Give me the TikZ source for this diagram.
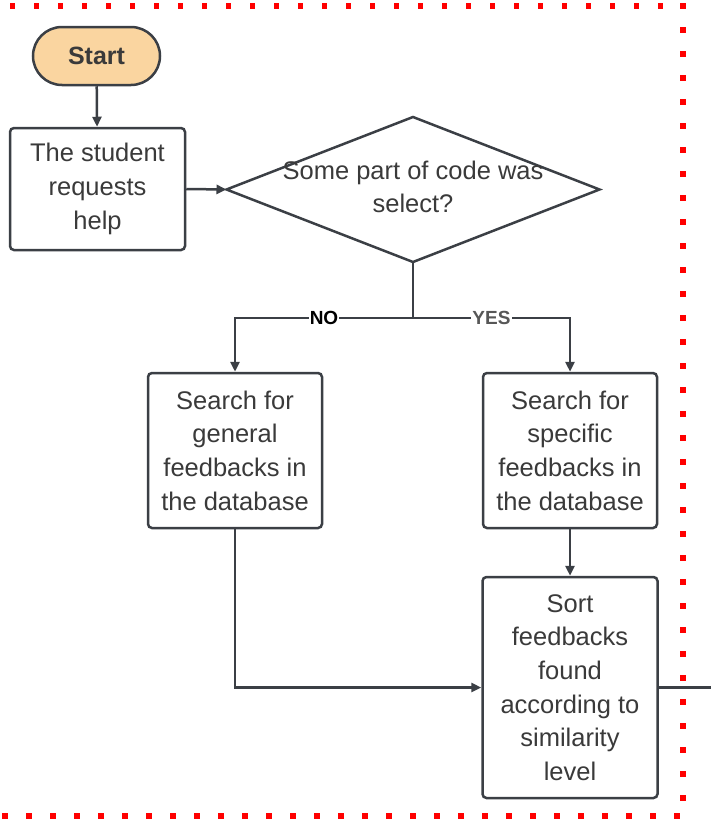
\documentclass[tikz,border=0pt]{standalone}
\usepackage{fontspec}
\setmainfont{Liberation Sans}
\usetikzlibrary{arrows.meta,shapes.geometric}
\definecolor{ink}{HTML}{3B3F45}
\definecolor{txt}{HTML}{3A3A3A}
\definecolor{peach}{HTML}{FAD5A0}
\definecolor{dotred}{HTML}{FF0000}
\tikzset{
  flow/.style={draw=ink, line width=2.5pt, fill=white, rounded corners=4pt,
    align=center, text=txt, inner sep=0pt,
    font=\fontsize{25.5}{33.6}\selectfont},
  arr/.style={draw=ink, line width=2.5pt, -{Triangle[length=10pt,width=9pt]}},
  link/.style={draw=ink, line width=2.5pt},
  tag/.style={fill=white, inner sep=1pt, font=\fontsize{19}{19}\selectfont\bfseries}
}
\begin{document}
\begin{tikzpicture}[x=1pt,y=-1pt]
\useasboundingbox (0,0) rectangle (710,819);

% red dotted frame (top, right, bottom)
\foreach \k in {0,...,27} \fill[dotred] ({12.3+24*\k-2.75},3) rectangle ++(5.5,5.5);
\foreach \k in {0,...,33} \fill[dotred] (680,{6+24*\k-2.75}) rectangle ++(5.5,5.5);
\foreach \k in {0,...,28} \fill[dotred] ({5+24*\k-2.75},813.3) rectangle ++(5.5,5.5);

% nodes
\node[flow, fill=peach, rounded corners=29pt, minimum width=127pt, minimum height=58pt,
      font=\fontsize{25}{25}\selectfont\bfseries] (start) at (96.5,56) {Start};
\node[flow, minimum width=175pt, minimum height=122pt] (req) at (97.5,189)
  {The student\\requests\\help};
\node[draw=ink, line width=2.5pt, shape=diamond, inner sep=0pt, outer sep=0pt,
      minimum width=373pt, minimum height=145pt] (dec) at (413,189.5) {};
\node[align=center, text=txt, font=\fontsize{25.5}{33}\selectfont] (dectext) at (413,186.5)
  {Some part of code was\\select?};
\node[flow, minimum width=174pt, minimum height=155pt] (gen) at (235,450.5)
  {Search for\\general\\feedbacks in\\the database};
\node[flow, minimum width=174pt, minimum height=155pt] (spec) at (570,450.5)
  {Search for\\specific\\feedbacks in\\the database};
\node[flow, minimum width=175pt, minimum height=221pt] (sort) at (570,687.5)
  {Sort\\feedbacks\\found\\according to\\similarity\\level};

\coordinate (split) at (413,318);
\coordinate (exit) at (712,687.5);

% connectors
\draw[arr] (start) -- (req);
\draw[arr] (req.east) -- (dec.west);
\draw[link] (dec.south) -- (split);
\draw[arr] (split) -| node[tag, pos=0.25, text=black] {NO} (gen.north);
\draw[arr] (split) -| node[tag, pos=0.25, text=txt!85] {YES} (spec.north);
\draw[arr] (spec) -- (sort);
\draw[arr] (gen.south) |- (sort.west);
\draw[link] (sort.east) -- (exit);
\end{tikzpicture}
\end{document}
